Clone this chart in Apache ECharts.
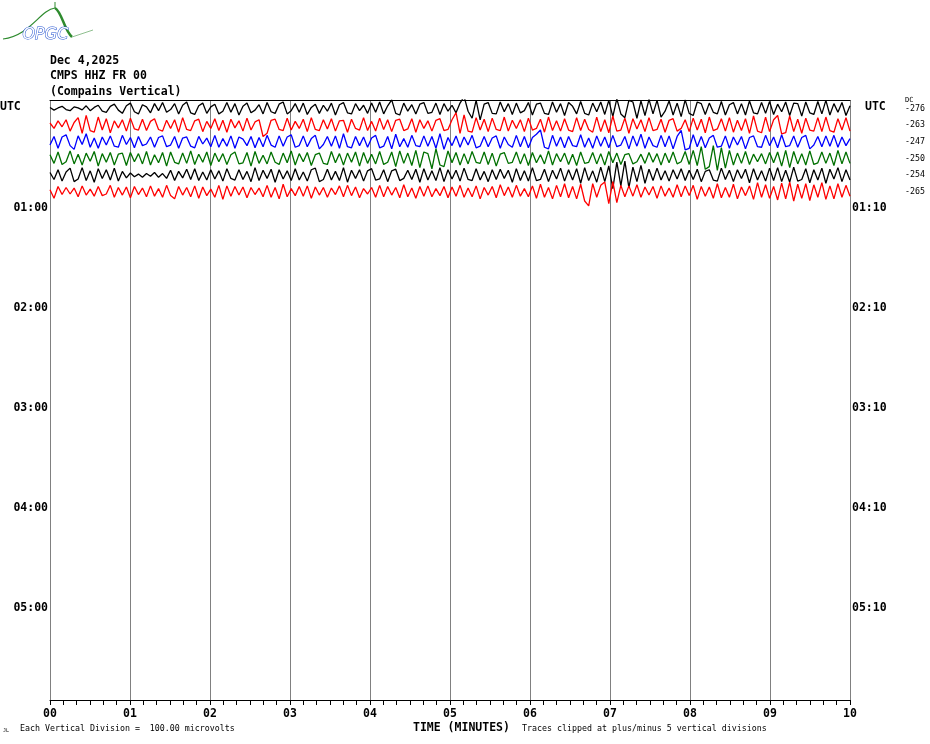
<!DOCTYPE html>
<html><head><meta charset="utf-8">
<script src="https://cdn.jsdelivr.net/npm/echarts@6/dist/echarts.min.js"></script>
<style>html,body{margin:0;padding:0;background:#fff}#c{width:930px;height:744px}</style>
</head><body><div id="c"></div>
<script>
// Minute tick labels
const minuteLabels = ['00','01','02','03','04','05','06','07','08','09','10'];
// Hour line labels (left / right)
const hourValues = [1,2,3,4,5];
const leftHourLabels = ['01:00','02:00','03:00','04:00','05:00'];
const rightHourLabels = ['01:10','02:10','03:10','04:10','05:10'];
// DC offsets per trace
const dcLabels = ['-276','-263','-247','-250','-254','-265'];
const traceColors = ['#000000','#ff0000','#0000ff','#007000','#000000','#ff0000'];
// Trace values (microvolts), each trace spans 10 minutes
const trace0 = [4,-6,2,8,-4,-8,6,2,-5,10,-8,4,12,-10,-14,8,16,-6,-18,10,
  20,-12,-20,14,6,-16,18,-8,22,-14,-4,18,-20,12,24,-16,-22,10,20,-18,
  6,16,-20,-10,22,-14,18,-24,8,20,-16,-6,14,-20,22,-12,-18,16,24,-20,
  -8,18,-14,20,-22,4,16,-18,12,-10,20,-24,14,22,-16,-20,18,-8,12,-18,
  20,-14,24,-20,10,32,-18,-24,20,-10,14,-20,16,22,-18,-14,20,-22,18,-10,
  12,-16,20,44,-10,-36,30,-42,16,22,-18,-20,24,-12,18,-22,20,-16,-8,22,
  -24,16,20,-18,-22,24,-14,18,-26,22,8,-20,26,-18,-24,20,-12,24,-22,30,
  -30,36,-20,-34,30,24,-36,28,-26,34,-20,30,-32,-10,28,-24,20,-30,32,-18,
  -26,24,18,-22,20,-14,-20,26,-24,14,22,-20,18,-24,28,-16,-20,22,-18,26,
  -22,16,-12,24,-26,20,18,-28,24,-16,-22,26,-20,30,-24,18,-14,22,-26,10];
const trace1 = [8,-12,16,-6,20,-22,10,28,-30,36,-20,-26,30,-18,24,-28,16,-10,20,-22,
  26,-14,-18,22,-20,14,24,-16,-22,18,-12,20,-26,28,-16,-20,16,22,-24,14,
  -12,24,-20,18,-26,22,-10,16,-22,26,-18,12,20,-42,-30,18,22,-16,-20,26,
  -18,14,-12,22,-24,28,-16,-20,20,-14,24,-22,16,18,-26,22,-12,-18,28,-20,
  14,-22,26,-16,20,-24,18,22,-20,-14,24,-26,20,-12,16,-22,18,24,-20,-16,
  20,46,-30,38,-22,-26,28,-18,22,-24,26,-16,-20,30,-22,18,-12,20,-24,26,
  -18,-12,22,-26,30,-20,16,-22,24,-18,-24,28,-20,22,-16,-26,30,-24,20,-28,
  34,-22,-18,26,-30,24,-14,20,-24,28,-20,-16,22,-26,18,24,-22,-12,20,-24,
  26,-18,22,-28,30,-20,-14,24,-22,28,-26,18,-20,24,-30,34,-22,-28,30,-24,
  20,36,-32,-28,34,-24,22,-30,26,-18,-22,28,-24,30,-20,-26,24,-18,28,-22];
const trace2 = [-12,20,-24,18,26,-14,-28,22,-10,30,-20,14,-24,18,-12,22,-16,-20,24,-10,
  16,-22,20,-14,-8,18,-20,16,22,-18,-12,20,-24,14,18,-16,-22,20,-8,14,
  -18,24,-20,12,-16,22,-24,18,10,-14,20,-22,16,-18,24,-12,-20,22,-16,18,
  26,-20,-14,22,-18,12,24,-26,-10,20,-16,22,-24,30,-18,-22,20,-14,18,-20,
  14,24,-22,-16,20,-26,28,-18,12,-20,24,-14,-18,22,-16,20,-24,30,-28,16,
  -14,22,-20,18,-12,24,-22,-16,20,-18,14,22,-24,18,-10,-20,24,-18,20,-22,
  16,28,44,-20,-26,24,-16,18,-22,20,-14,-18,26,-20,14,-24,22,-16,18,-22,
  24,-18,-12,20,-26,22,-16,28,-24,18,-14,-20,24,-18,22,-26,20,42,-30,-24,
  26,-18,20,-22,14,24,-20,-16,22,-24,18,-12,20,-26,16,22,-18,-20,24,-14,
  18,-22,26,-18,-14,22,-20,16,24,-26,-12,20,-18,22,-16,24,-20,18,-14,12];
const trace3 = [14,-18,24,-22,-12,28,-20,16,-24,20,-10,26,-28,18,-14,22,-24,16,20,-26,
  22,-12,18,-20,26,-24,14,-16,22,-28,24,-14,-20,20,-18,28,-22,16,-14,24,
  -26,20,-12,18,-22,14,24,-20,-16,22,-28,26,-18,12,-20,24,-14,-22,20,-16,
  28,-24,18,-12,22,-26,14,20,-18,-22,26,-16,18,-24,20,-14,24,-28,22,-18,
  16,-20,26,-22,-14,24,-30,28,-18,20,-26,30,-34,24,18,-38,36,-24,-30,28,
  -16,22,-24,18,-20,26,-14,-18,24,-22,20,-28,16,22,-18,-14,24,-20,18,-26,
  22,-16,14,-20,28,-24,18,-12,20,-22,16,-26,24,-18,-14,22,-20,18,-24,26,
  -16,20,-22,14,18,-20,-12,16,-18,22,-14,18,-24,20,-16,24,-20,-12,26,-22,
  30,-26,44,-40,-30,48,-44,40,-36,30,-24,20,-18,26,-22,16,-12,18,-20,22,
  -16,24,-28,30,-34,26,-20,18,-24,28,-22,-16,24,-18,20,-26,30,-20,24,-18];
const trace4 = [10,-16,20,-22,12,26,-24,-14,28,-20,16,-26,24,-12,20,-18,26,-22,14,-10,
  8,-6,4,-8,6,-4,10,-8,6,-12,18,-20,14,-10,22,-16,24,-20,12,-18,
  20,-14,16,-22,24,-12,-18,20,-16,14,-24,28,-20,18,-12,22,-26,20,-14,16,
  -20,24,-18,12,-22,20,26,-24,-16,22,-18,14,-20,28,-26,18,-12,20,-22,16,
  24,-18,-14,20,-24,16,22,-20,-12,18,-16,22,-26,24,-18,16,-20,28,-24,20,
  -14,18,-22,26,-16,-20,24,-18,14,-24,20,-16,22,-12,18,-26,24,-20,16,-22,
  28,-20,-16,22,-24,18,-14,26,-22,20,-18,24,-30,28,-20,16,-26,30,-24,34,
  -50,48,-40,52,-46,30,-24,36,-30,22,-20,26,-18,16,-22,20,-14,24,-20,18,
  -16,22,-24,14,20,-18,-22,26,-16,18,-24,20,-12,22,-28,24,-18,16,-22,26,
  -20,28,-24,18,-26,30,-22,-16,24,-28,20,-18,26,-30,22,-14,28,-24,20,-18];
const trace5 = [8,-24,20,-10,16,-8,14,-18,22,-12,10,-16,20,-14,-8,24,-20,16,-12,18,
  -22,20,-10,14,-18,22,-16,12,-20,24,-14,-26,20,-12,16,-18,22,-24,18,-14,
  10,-20,24,-28,22,-16,20,-12,18,-22,16,-10,14,-18,24,-20,16,-26,28,-18,
  12,-14,20,-16,22,-24,18,-12,16,-20,14,-10,22,-18,24,-14,18,-22,12,-8,
  16,-20,24,-18,20,-12,16,-22,26,-18,14,-24,20,-16,22,-18,12,-14,20,-22,
  18,-16,24,-20,14,-18,22,-26,16,-12,20,-22,26,-14,18,-20,24,-16,12,-18,
  22,-24,28,-20,16,-26,24,-18,30,-22,20,-26,28,-34,-52,30,-20,24,36,-44,
  38,-40,24,-18,22,-16,26,-20,18,-12,20,-24,22,-16,14,-20,26,-18,22,-14,
  24,-28,20,-16,18,-24,30,-22,16,-20,28,-26,18,-14,22,-28,34,-20,26,-24,
  20,-30,32,-26,36,-34,28,-24,30,-32,26,-20,34,-28,22,-26,30,-20,24,-16];
const traces = [trace0, trace1, trace2, trace3, trace4, trace5];

const MONO = '"DejaVu Sans Mono", "Liberation Mono", monospace';
const chart = echarts.init(document.getElementById('c'), null, {renderer: 'canvas'});

// 1 hour row = 1 unit on y axis; 6 traces per hour
const series = traces.map((vals, k) => ({
  type: 'line',
  xAxisIndex: 0, yAxisIndex: 0,
  showSymbol: false,
  silent: true,
  lineStyle: {color: traceColors[k], width: 1.3},
  data: vals.map((v, i) => [i * 10 / (vals.length - 1), k / 6 - v / 370])
}));

const yCommon = {type: 'value', min: -0.085, max: 5.915, inverse: true,
  axisLine: {show: false}, axisTick: {show: false}, splitLine: {show: false}};

chart.setOption({
  animation: false,
  backgroundColor: '#fff',
  grid: {left: 50, right: 80, top: 100, bottom: 44, containLabel: false},
  xAxis: [{
    type: 'value', min: 0, max: 10, interval: 1, position: 'bottom',
    axisLine: {show: true, onZero: false, lineStyle: {color: '#000', width: 1}},
    axisTick: {show: true, inside: false, length: 5, lineStyle: {color: '#000'}},
    minorTick: {show: true, splitNumber: 6, length: 5, lineStyle: {color: '#000'}},
    splitLine: {show: true, lineStyle: {color: '#808080', width: 1}},
    axisLabel: {margin: 8, color: '#000', fontFamily: MONO, fontWeight: 'bold', fontSize: 11.5,
      formatter: v => minuteLabels[Math.round(v)]}
  }, {
    type: 'value', min: 0, max: 10, position: 'top',
    axisLine: {show: true, onZero: false, lineStyle: {color: '#000', width: 1}},
    axisTick: {show: false}, axisLabel: {show: false}, splitLine: {show: false}
  }],
  yAxis: [
    Object.assign({}, yCommon, {position: 'left',
      axisLabel: {customValues: hourValues, margin: 2, color: '#000', fontFamily: MONO, fontWeight: 'bold', fontSize: 11.5,
        formatter: v => leftHourLabels[Math.round(v) - 1]}}),
    Object.assign({}, yCommon, {position: 'right',
      axisLabel: {customValues: hourValues, margin: 2, color: '#000', fontFamily: MONO, fontWeight: 'bold', fontSize: 11.5,
        formatter: v => rightHourLabels[Math.round(v) - 1]}}),
    Object.assign({}, yCommon, {position: 'right', offset: 54,
      axisLabel: {customValues: [0, 1/6, 2/6, 3/6, 4/6, 5/6], margin: 1, color: '#000', fontFamily: MONO, fontSize: 8.3,
        formatter: v => dcLabels[Math.round(v * 6)]}})
  ],
  series: series,
  graphic: [
    {type: 'text', left: 50, top: 55, style: {text: 'Dec 4,2025', fontFamily: MONO, fontWeight: 'bold', fontSize: 11.5, fill: '#000'}},
    {type: 'text', left: 50, top: 70, style: {text: 'CMPS HHZ FR 00', fontFamily: MONO, fontWeight: 'bold', fontSize: 11.5, fill: '#000'}},
    {type: 'text', left: 50, top: 86, style: {text: '(Compains Vertical)', fontFamily: MONO, fontWeight: 'bold', fontSize: 11.5, fill: '#000'}},
    {type: 'text', left: 0, top: 101, style: {text: 'UTC', fontFamily: MONO, fontWeight: 'bold', fontSize: 11.5, fill: '#000'}},
    {type: 'text', left: 865, top: 101, style: {text: 'UTC', fontFamily: MONO, fontWeight: 'bold', fontSize: 11.5, fill: '#000'}},
    {type: 'text', left: 905, top: 97, style: {text: 'DC', fontFamily: MONO, fontSize: 7, fill: '#000'}},
    {type: 'text', left: 413, top: 722, style: {text: 'TIME (MINUTES)', fontFamily: MONO, fontWeight: 'bold', fontSize: 11.5, fill: '#000'}},
    {type: 'text', left: 20, top: 725, style: {text: 'Each Vertical Division =  100.00 microvolts', fontFamily: MONO, fontSize: 8.3, fill: '#000'}},
    {type: 'text', left: 522, top: 725, style: {text: 'Traces clipped at plus/minus 5 vertical divisions', fontFamily: MONO, fontSize: 8.3, fill: '#000'}},
    {type: 'text', left: 3, top: 728, style: {text: 'JL', fontFamily: MONO, fontSize: 5, fill: '#000'}},
    // logo
    {type: 'bezierCurve', shape: {x1: 3, y1: 39, x2: 55, y2: 8, cpx1: 30, cpy1: 36, cpx2: 40, cpy2: 10},
      style: {stroke: '#2e8b2e', lineWidth: 1.2, fill: null}},
    {type: 'bezierCurve', shape: {x1: 55, y1: 8, x2: 72, y2: 37, cpx1: 62, cpy1: 12, cpx2: 64, cpy2: 30},
      style: {stroke: '#2e8b2e', lineWidth: 2.5, fill: null}},
    {type: 'line', shape: {x1: 72, y1: 37, x2: 93, y2: 30}, style: {stroke: '#8fbf8f', lineWidth: 1}},
    {type: 'line', shape: {x1: 55, y1: 2, x2: 55, y2: 8}, style: {stroke: '#2e8b2e', lineWidth: 1}},
    {type: 'text', left: 22, top: 26, style: {text: 'OPGC', fontFamily: '"DejaVu Sans"', fontStyle: 'italic', fontSize: 16,
      fill: '#ffffff', stroke: '#2050d0', lineWidth: 1}}
  ]
});
</script></body></html>
